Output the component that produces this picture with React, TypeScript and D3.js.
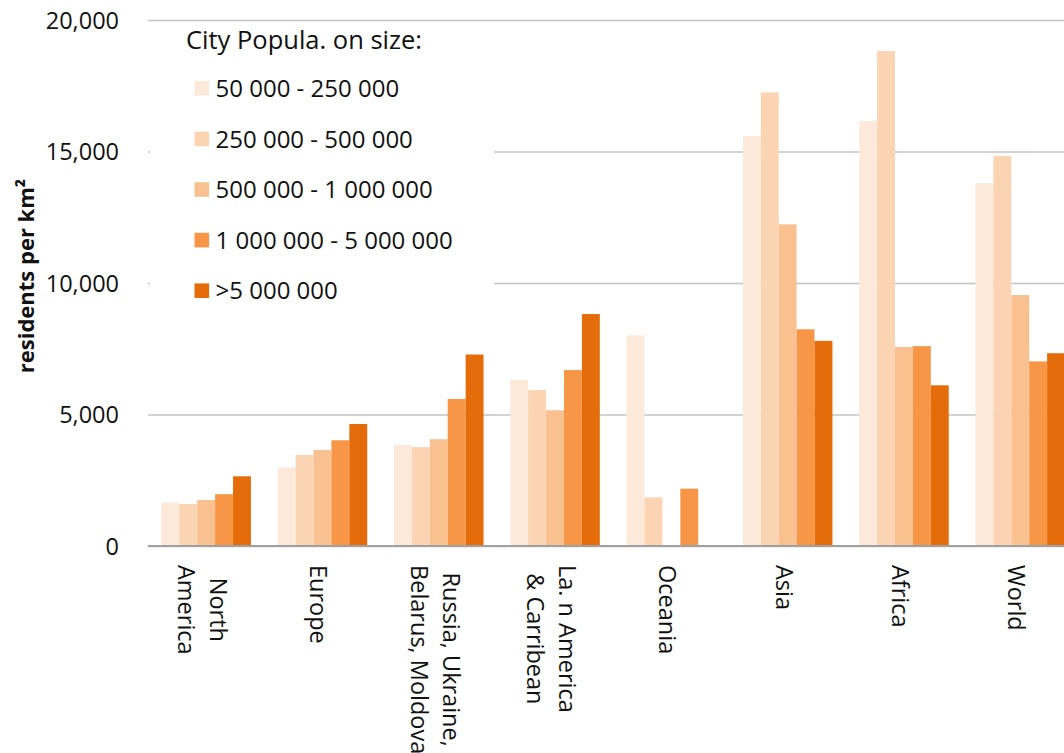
import React, { useEffect, useRef } from 'react'
import * as d3 from 'd3'

// regions along the x axis (multi-line labels split on \n)
const categories = [
  'North\nAmerica',
  'Europe',
  'Russia, Ukraine,\nBelarus, Moldova',
  'La. n America\n& Carribean',
  'Oceania',
  'Asia',
  'Africa',
  'World',
]

const seriesNames = [
  '50 000 - 250 000',
  '250 000 - 500 000',
  '500 000 - 1 000 000',
  '1 000 000 - 5 000 000',
  '>5 000 000',
]

const seriesColors = ['#FDE9D9', '#FBD4B4', '#F9C090', '#F79646', '#E46C0A']

// residents per km2, one array per city size class
const size50k = [1650, 2990, 3840, 6320, 8010, 15590, 16160, 13800]
const size250k = [1600, 3460, 3760, 5930, 1850, 17250, 18820, 14830]
const size500k = [1750, 3650, 4060, 5160, null, 12230, 7570, 9540]
const size1m = [1970, 4020, 5590, 6690, 2180, 8240, 7600, 7020]
const size5m = [2650, 4640, 7280, 8820, null, 7800, 6110, 7330]

const seriesValues = [size50k, size250k, size500k, size1m, size5m]

const yTicks = [0, 5000, 10000, 15000, 20000]

const FONT = '"Open Sans", sans-serif'

const App = () => {
  const svgRef = useRef(null)

  useEffect(() => {
    const svg = d3.select(svgRef.current)
    svg.selectAll('*').remove()

    const left = 148
    const right = 148 + 8 * 116.3
    const top = 20
    const bottom = 546

    const x = d3
      .scaleBand()
      .domain(categories)
      .range([left, right])
      .paddingInner(0.23)
      .paddingOuter(0.115)

    const xInner = d3
      .scaleBand()
      .domain(seriesNames)
      .range([0, x.bandwidth()])
      .padding(0)

    const y = d3.scaleLinear().domain([0, 20000]).range([bottom, top])

    // y axis with gridlines
    const yAxis = d3
      .axisLeft(y)
      .tickValues(yTicks)
      .tickSize(-(right - left))
      .tickPadding(29)
      .tickFormat(d3.format(','))

    const yAxisGroup = svg
      .append('g')
      .attr('transform', `translate(${left},0)`)
      .call(yAxis)
    yAxisGroup.select('.domain').remove()
    yAxisGroup
      .selectAll('line')
      .attr('stroke', '#C4C4C4')
      .attr('stroke-width', 1.5)
    yAxisGroup
      .selectAll('text')
      .attr('dy', '0.36em')
      .style('font-family', FONT)
      .style('font-size', '23.5px')
      .style('fill', '#111')

    // bars
    const groups = svg
      .append('g')
      .selectAll('g')
      .data(categories)
      .enter()
      .append('g')
      .attr('transform', (d) => `translate(${x(d)},0)`)

    groups.each(function (cat, ci) {
      const g = d3.select(this)
      seriesValues.forEach((vals, si) => {
        const v = vals[ci]
        if (v == null) return
        g.append('rect')
          .attr('x', xInner(seriesNames[si]))
          .attr('y', y(v))
          .attr('width', xInner.bandwidth())
          .attr('height', y(0) - y(v))
          .attr('fill', seriesColors[si])
      })
    })

    // baseline
    svg
      .append('line')
      .attr('x1', left)
      .attr('x2', right)
      .attr('y1', y(0))
      .attr('y2', y(0))
      .attr('stroke', '#A0A0A0')
      .attr('stroke-width', 2)

    // x labels, rotated clockwise, lines centred on each other
    const lineGap = 32
    groups.each(function (cat) {
      const lines = cat.split('\n')
      const cx = x.bandwidth() / 2
      const lbl = d3
        .select(this)
        .append('g')
        .attr('transform', `translate(${cx},565) rotate(90)`)
      const texts = lines.map((line, i) => {
        const offset = -4 - 8 + ((lines.length - 1) / 2 - i) * lineGap
        return lbl
          .append('text')
          .attr('y', -offset)
          .style('font-family', FONT)
          .style('font-size', '23.5px')
          .style('fill', '#111')
          .text(line)
      })
      const lens = texts.map((t) => t.node().getComputedTextLength())
      const maxLen = d3.max(lens)
      texts.forEach((t, i) => t.attr('x', (maxLen - lens[i]) / 2))
    })

    // y axis title
    svg
      .append('text')
      .attr('transform', `translate(34,276) rotate(-90)`)
      .attr('text-anchor', 'middle')
      .style('font-family', FONT)
      .style('font-weight', 'bold')
      .style('font-size', '22px')
      .style('fill', '#111')
      .text('residents per km²')

    // legend
    const legend = svg.append('g')
    legend
      .append('rect')
      .attr('x', 150)
      .attr('y', 23)
      .attr('width', 344)
      .attr('height', 290)
      .attr('fill', 'white')
    legend
      .append('text')
      .attr('x', 186)
      .attr('y', 49)
      .style('font-family', FONT)
      .style('font-size', '25.5px')
      .style('fill', '#111')
      .text('City Popula. on size:')

    const rowStep = 50.6
    seriesNames.forEach((name, i) => {
      const cy = 88.3 + i * rowStep
      legend
        .append('rect')
        .attr('x', 194.5)
        .attr('y', cy - 7.3)
        .attr('width', 14.6)
        .attr('height', 14.6)
        .attr('fill', seriesColors[i])
      legend
        .append('text')
        .attr('x', 215.5)
        .attr('y', cy)
        .attr('dy', '0.36em')
        .style('font-family', FONT)
        .style('font-size', '24px')
        .style('fill', '#111')
        .text(name)
    })
  }, [])

  return (
    <svg
      ref={svgRef}
      width={1064}
      height={753}
      style={{ position: 'absolute', left: 0, top: 0, background: 'white' }}
    ></svg>
  )
}

export default App
